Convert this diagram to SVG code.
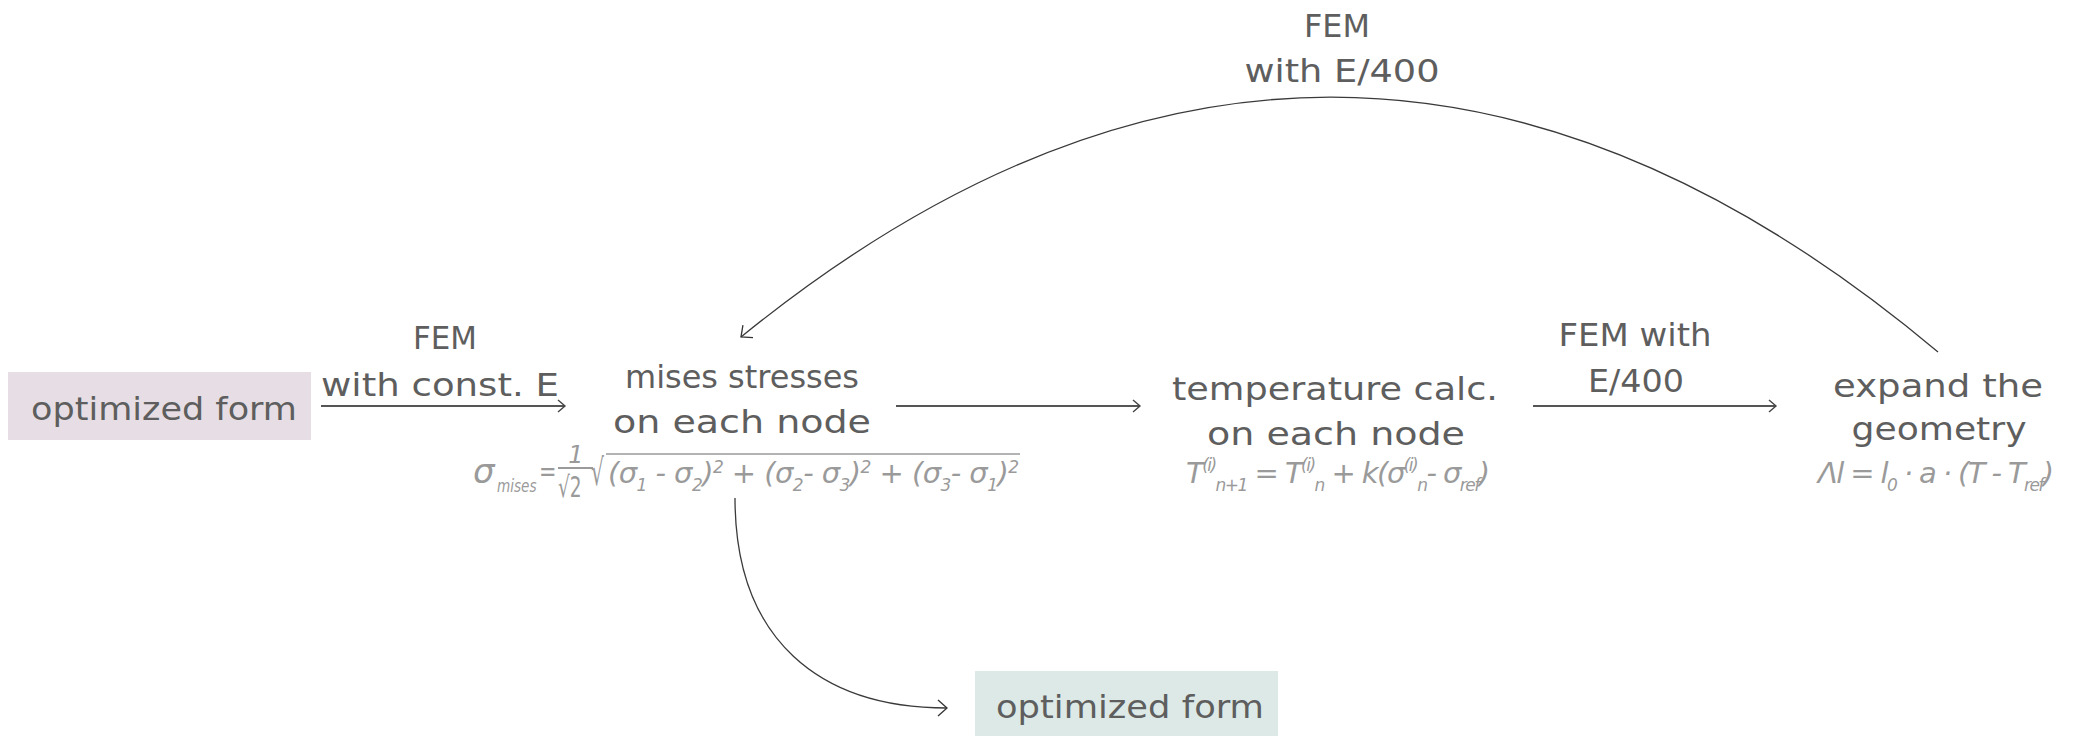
<svg xmlns="http://www.w3.org/2000/svg" width="2078" height="736" viewBox="0 0 2078 736">
<style>
.lbl{font-family:"DejaVu Sans","Liberation Sans",sans-serif;font-size:32px;fill:#5e5e5e;text-anchor:middle}
.f{font-family:"DejaVu Sans","Liberation Sans",sans-serif;font-style:italic;font-size:29px;fill:#9a9a9a}
.sb{font-size:17px}
.sp{font-size:17px}
.conn{fill:none;stroke:#3a3a3a;stroke-width:1.3}
.harr{fill:none;stroke:#555;stroke-width:1.8}
</style>
<defs>
<marker id="ah" markerUnits="userSpaceOnUse" viewBox="-12 -10 14 20" refX="0" refY="0" markerWidth="14" markerHeight="20" orient="auto">
<path d="M-7,-6 L0,0 L-7,6" fill="none" stroke="#444" stroke-width="1.4"/>
</marker>
<marker id="ah2" markerUnits="userSpaceOnUse" viewBox="-12 -10 14 20" refX="0" refY="0" markerWidth="14" markerHeight="20" orient="auto">
<path d="M-9,-8 L0,0 L-9,8" fill="none" stroke="#333" stroke-width="1.3"/>
</marker>
</defs>
<rect width="2078" height="736" fill="#ffffff"/>

<g id="connectors">
<path class="harr" d="M321,406 H565" marker-end="url(#ah)"/>
<path class="harr" d="M896,406 H1140" marker-end="url(#ah)"/>
<path class="harr" d="M1533,406 H1776" marker-end="url(#ah)"/>
<path class="conn" d="M1938,352 Q1340,-150 741,337" marker-end="url(#ah2)"/>
<path class="conn" d="M735,498 C735,640 820,708 947,708" marker-end="url(#ah2)"/>
<text class="lbl" x="445" y="349" textLength="64" lengthAdjust="spacingAndGlyphs">FEM</text>
<text class="lbl" x="440" y="396" textLength="238" lengthAdjust="spacingAndGlyphs">with const. E</text>
<text class="lbl" x="1337" y="37" textLength="66" lengthAdjust="spacingAndGlyphs">FEM</text>
<text class="lbl" x="1342" y="82" textLength="195" lengthAdjust="spacingAndGlyphs">with E/400</text>
<text class="lbl" x="1635" y="346" textLength="153" lengthAdjust="spacingAndGlyphs">FEM with</text>
<text class="lbl" x="1636" y="392" textLength="96" lengthAdjust="spacingAndGlyphs">E/400</text>
</g>

<g id="node-start">
<rect x="8" y="372" width="303" height="68" fill="#e6dee4"/>
<text class="lbl" x="164" y="420" textLength="266" lengthAdjust="spacingAndGlyphs">optimized form</text>
</g>

<g id="node-mises">
<text class="lbl" x="742" y="388" textLength="234" lengthAdjust="spacingAndGlyphs">mises stresses</text>
<text class="lbl" x="742" y="433" textLength="258" lengthAdjust="spacingAndGlyphs">on each node</text>
<text class="f" x="473" y="483" style="font-size:34px">σ</text>
<text class="f" transform="translate(497,492) scale(0.8,1)" style="font-size:17px">mises</text>
<text class="f" transform="translate(539,481) scale(0.72,1)">=</text>
<text class="f" x="576" y="463" style="font-size:24px" text-anchor="middle">1</text>
<line x1="558" y1="468" x2="593" y2="468" stroke="#9a9a9a" stroke-width="2"/>
<text class="f" transform="translate(558,497) scale(0.64,1)" style="font-size:29px;font-style:normal">√2</text>
<text class="f" transform="translate(591,485) scale(0.55,1)" style="font-size:37px;font-style:normal">√</text>
<line x1="606" y1="454" x2="1020" y2="454" stroke="#9a9a9a" stroke-width="1.6"/>
<text class="f" x="608" y="483" textLength="411">(σ<tspan class="sb" dy="8">1</tspan><tspan dy="-8"> - σ</tspan><tspan class="sb" dy="8">2</tspan><tspan dy="-8">)</tspan><tspan class="sp" dy="-10">2</tspan><tspan dy="10"> + (σ</tspan><tspan class="sb" dy="8">2</tspan><tspan dy="-8">- σ</tspan><tspan class="sb" dy="8">3</tspan><tspan dy="-8">)</tspan><tspan class="sp" dy="-10">2</tspan><tspan dy="10"> + (σ</tspan><tspan class="sb" dy="8">3</tspan><tspan dy="-8">- σ</tspan><tspan class="sb" dy="8">1</tspan><tspan dy="-8">)</tspan><tspan class="sp" dy="-10">2</tspan></text>
</g>

<g id="node-temperature">
<text class="lbl" x="1335" y="400" textLength="326" lengthAdjust="spacingAndGlyphs">temperature calc.</text>
<text class="lbl" x="1336" y="445" textLength="258" lengthAdjust="spacingAndGlyphs">on each node</text>
<text class="f" x="1186" y="483" textLength="304">T<tspan class="sp" dy="-12">(i)</tspan><tspan class="sb" dy="20">n+1</tspan><tspan dy="-8"> = T</tspan><tspan class="sp" dy="-12">(i)</tspan><tspan class="sb" dy="20">n</tspan><tspan dy="-8"> + k(σ</tspan><tspan class="sp" dy="-12">(i)</tspan><tspan class="sb" dy="20">n</tspan><tspan dy="-8">- σ</tspan><tspan class="sb" dy="8">ref</tspan><tspan dy="-8">)</tspan></text>
</g>

<g id="node-expand">
<text class="lbl" x="1938" y="397" textLength="210" lengthAdjust="spacingAndGlyphs">expand the</text>
<text class="lbl" x="1939" y="440" textLength="175" lengthAdjust="spacingAndGlyphs">geometry</text>
<text class="f" x="1818" y="483" textLength="236">Λl = l<tspan class="sb" dy="8">0</tspan><tspan dy="-8"> · a · (T - T</tspan><tspan class="sb" dy="8">ref</tspan><tspan dy="-8">)</tspan></text>
</g>

<g id="node-end">
<rect x="975" y="671" width="303" height="70" fill="#dce9e6"/>
<text class="lbl" x="1130" y="718" textLength="268" lengthAdjust="spacingAndGlyphs">optimized form</text>
</g>
</svg>
